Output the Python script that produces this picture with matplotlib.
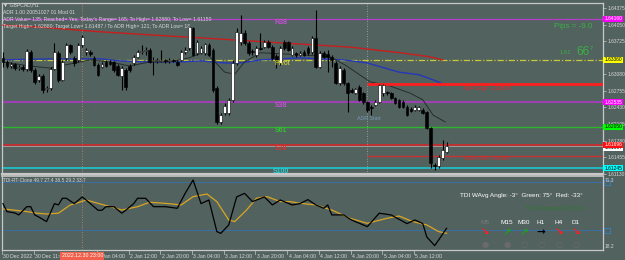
import numpy as np
import matplotlib
matplotlib.use("Agg")
import matplotlib.pyplot as plt
from matplotlib.patches import Rectangle
from matplotlib.transforms import blended_transform_factory as blend

plt.rcParams['font.family'] = ['Liberation Sans', 'DejaVu Sans']

# ------------------------------------------------------------------
# Data (GBPCAD H1, 30 Dec 2022 03:00 .. 5 Jan)
# ------------------------------------------------------------------
opens = [
    1.6340, 1.6332, 1.6324, 1.6328, 1.6320, 1.6322, 1.6318, 1.6352, 1.6316, 1.6297,
    1.6305, 1.6279, 1.6281, 1.6318, 1.6350, 1.6297, 1.6340, 1.6365, 1.6340, 1.6336,
    1.6365, 1.6352, 1.6352, 1.6340, 1.6326, 1.6322, 1.6332, 1.6332, 1.6332, 1.6324,
    1.6305, 1.6316, 1.6324, 1.6330, 1.6342, 1.6352, 1.6353, 1.6355, 1.6334, 1.6334,
    1.6334, 1.6336, 1.6334, 1.6336, 1.6332, 1.6336, 1.6352, 1.6359, 1.6398, 1.6350,
    1.6350, 1.6350, 1.6365, 1.6355, 1.6281, 1.6215, 1.6232, 1.6232, 1.6258, 1.6330,
    1.6371, 1.6389, 1.6369, 1.6353, 1.6346, 1.6359, 1.6361, 1.6371, 1.6361, 1.6344,
    1.6330, 1.6371, 1.6371, 1.6346, 1.6350, 1.6346, 1.6352, 1.6359, 1.6352, 1.6379,
    1.6322, 1.6350, 1.6348, 1.6342, 1.6330, 1.6291, 1.6316, 1.6291, 1.6277, 1.6271,
    1.6283, 1.6271, 1.6254, 1.6244, 1.6248, 1.6254, 1.6271, 1.6273, 1.6271, 1.6262,
    1.6258, 1.6254, 1.6244, 1.6240, 1.6238, 1.6238, 1.6238, 1.6234, 1.6203, 1.6130,
    1.6129, 1.6144, 1.6156]
highs = [
    1.6352, 1.6336, 1.6332, 1.6330, 1.6326, 1.6326, 1.6357, 1.6355, 1.6320, 1.6308,
    1.6308, 1.6285, 1.6322, 1.6369, 1.6353, 1.6336, 1.6369, 1.6367, 1.6344, 1.6369,
    1.6385, 1.6359, 1.6355, 1.6344, 1.6330, 1.6332, 1.6336, 1.6336, 1.6334, 1.6328,
    1.6324, 1.6320, 1.6328, 1.6346, 1.6355, 1.6365, 1.6361, 1.6359, 1.6342, 1.6340,
    1.6355, 1.6338, 1.6340, 1.6338, 1.6336, 1.6355, 1.6361, 1.6404, 1.6400, 1.6375,
    1.6363, 1.6369, 1.6369, 1.6359, 1.6285, 1.6232, 1.6252, 1.6262, 1.6336, 1.6398,
    1.6424, 1.6395, 1.6373, 1.6357, 1.6363, 1.6389, 1.6375, 1.6375, 1.6365, 1.6348,
    1.6363, 1.6375, 1.6373, 1.6363, 1.6352, 1.6353, 1.6355, 1.6363, 1.6383, 1.6434,
    1.6353, 1.6353, 1.6355, 1.6346, 1.6334, 1.6324, 1.6320, 1.6293, 1.6281, 1.6281,
    1.6287, 1.6273, 1.6256, 1.6248, 1.6258, 1.6289, 1.6289, 1.6275, 1.6273, 1.6264,
    1.6260, 1.6258, 1.6248, 1.6244, 1.6248, 1.6246, 1.6242, 1.6236, 1.6205, 1.6134,
    1.6150, 1.6179, 1.6176]
lows = [
    1.6322, 1.6320, 1.6320, 1.6316, 1.6316, 1.6314, 1.6314, 1.6312, 1.6289, 1.6293,
    1.6271, 1.6273, 1.6277, 1.6316, 1.6293, 1.6295, 1.6336, 1.6348, 1.6324, 1.6332,
    1.6361, 1.6346, 1.6344, 1.6324, 1.6305, 1.6320, 1.6322, 1.6326, 1.6312, 1.6305,
    1.6277, 1.6277, 1.6312, 1.6326, 1.6340, 1.6348, 1.6346, 1.6330, 1.6307, 1.6330,
    1.6332, 1.6330, 1.6330, 1.6332, 1.6324, 1.6334, 1.6348, 1.6355, 1.6344, 1.6346,
    1.6348, 1.6346, 1.6344, 1.6273, 1.6211, 1.6211, 1.6228, 1.6228, 1.6254, 1.6326,
    1.6365, 1.6365, 1.6346, 1.6346, 1.6342, 1.6355, 1.6359, 1.6359, 1.6336, 1.6320,
    1.6326, 1.6355, 1.6353, 1.6344, 1.6342, 1.6344, 1.6344, 1.6346, 1.6348, 1.6320,
    1.6320, 1.6340, 1.6312, 1.6322, 1.6289, 1.6287, 1.6287, 1.6234, 1.6271, 1.6269,
    1.6256, 1.6250, 1.6234, 1.6228, 1.6246, 1.6252, 1.6265, 1.6267, 1.6260, 1.6250,
    1.6242, 1.6242, 1.6226, 1.6234, 1.6236, 1.6236, 1.6230, 1.6201, 1.6125, 1.6121,
    1.6125, 1.6140, 1.6154]
closes = [
    1.6332, 1.6324, 1.6328, 1.6320, 1.6322, 1.6318, 1.6353, 1.6316, 1.6293, 1.6305,
    1.6277, 1.6281, 1.6318, 1.6352, 1.6297, 1.6332, 1.6365, 1.6352, 1.6330, 1.6365,
    1.6381, 1.6355, 1.6348, 1.6326, 1.6307, 1.6328, 1.6324, 1.6328, 1.6316, 1.6307,
    1.6320, 1.6283, 1.6316, 1.6342, 1.6352, 1.6353, 1.6355, 1.6332, 1.6336, 1.6336,
    1.6336, 1.6334, 1.6336, 1.6334, 1.6326, 1.6352, 1.6355, 1.6400, 1.6346, 1.6371,
    1.6359, 1.6367, 1.6346, 1.6277, 1.6215, 1.6228, 1.6246, 1.6258, 1.6330, 1.6391,
    1.6389, 1.6369, 1.6350, 1.6352, 1.6359, 1.6357, 1.6371, 1.6361, 1.6340, 1.6336,
    1.6359, 1.6359, 1.6355, 1.6359, 1.6346, 1.6350, 1.6346, 1.6350, 1.6379, 1.6322,
    1.6350, 1.6342, 1.6342, 1.6336, 1.6291, 1.6320, 1.6291, 1.6271, 1.6273, 1.6279,
    1.6258, 1.6254, 1.6238, 1.6242, 1.6254, 1.6287, 1.6287, 1.6271, 1.6262, 1.6252,
    1.6244, 1.6244, 1.6228, 1.6236, 1.6244, 1.6244, 1.6232, 1.6203, 1.6134, 1.6129,
    1.6146, 1.6160, 1.61667]

# moving averages (bar index, price)
slow_ma_idx = [0, 9, 24.5, 37, 50, 62.4, 75, 87.6, 100.3, 107.8, 111]
slow_ma_val = [1.6404, 1.6400, 1.6391, 1.6385, 1.6379, 1.6373, 1.6367, 1.6361, 1.6350, 1.6342, 1.6336]
mid_ma_idx = [0, 12, 24.5, 29.5, 37, 44.7, 50, 56, 60, 65, 75, 86, 92, 100, 105, 108.6, 111.6]
mid_ma_val = [1.6336, 1.6338, 1.6338, 1.6334, 1.6332, 1.6332, 1.6334, 1.6330, 1.6330, 1.6336,
              1.6340, 1.6336, 1.6330, 1.6312, 1.6307, 1.6297, 1.6287]
fast_ma_idx = [0, 6.8, 11.9, 16.9, 22, 27, 32, 37, 42, 47, 51, 53.5, 56, 58.5, 61, 65, 75,
               82.6, 86.4, 92.7, 97.7, 102.8, 106, 108.6, 111.6]
fast_ma_val = [1.6332, 1.6324, 1.6320, 1.6328, 1.6336, 1.6332, 1.6324, 1.6332, 1.6332, 1.6340,
               1.6352, 1.6332, 1.6312, 1.6308, 1.6332, 1.6350, 1.6346, 1.6342, 1.6326, 1.6293,
               1.6285, 1.6271, 1.6258, 1.6228, 1.6215]

# fibo pivot levels
level_names = ['R38', 'Pivot', 'S38', 'S61', 'S78', 'S100']
level_prices = [1.64160, 1.63360, 1.62535, 1.62050, 1.61696, 1.61245]

adr_high = 1.62880
adr_low = 1.61487
adr_start_bar = 92
cross_bar = 20

# scale labels that are not covered by the level boxes
price_ticks = [1.64375, 1.64050, 1.63725, 1.63080, 1.62755,
               1.62430, 1.62105, 1.61780, 1.61455, 1.61130]

time_bars = [0, 8, 24, 32, 40, 48, 56, 64, 72, 80, 88, 96, 104]
time_labels = ['30 Dec 2022', '30 Dec 11:00', '2 Jan 04:00', '2 Jan 12:00', '2 Jan 20:00',
               '3 Jan 04:00', '3 Jan 12:00', '3 Jan 20:00', '4 Jan 04:00', '4 Jan 12:00',
               '4 Jan 20:00', '5 Jan 04:00', '5 Jan 12:00']

# TDI sub-window
rsi_idx = [0, 1, 3, 4, 6, 7, 8, 9, 11, 13, 14, 15, 16, 18, 20, 21, 24, 25, 26, 28, 30, 31,
           33, 34, 36, 38, 41, 44, 46, 48, 50, 52, 54, 55, 57, 59, 61, 63, 66, 68, 70, 73,
           75, 77, 79, 81, 82, 83, 86, 88, 92, 95, 98, 102, 104, 106, 107, 109, 110, 112]
rsi_val = [52, 46, 45, 43.5, 49.7, 49.7, 43.5, 42, 38.5, 52, 51, 56, 56, 52, 57, 54.7, 47,
           47, 49.7, 49.7, 44.8, 47, 52, 56, 56, 49.7, 49.7, 48.5, 59.7, 69.7, 52, 54.7, 31,
           29.7, 36, 57, 59.7, 53.5, 57, 51, 54.7, 51, 52, 55, 51, 48.5, 51, 43.5, 43.5,
           39.7, 34.7, 44.8, 43.5, 37, 39.7, 37, 27, 20.5, 24.7, 33.5]
sig_idx = [0, 2.5, 6, 8.6, 11, 14, 17, 19, 21, 24, 27, 30, 34, 37, 41, 45, 48, 51.5, 54, 57,
           58.5, 61.5, 64, 66.7, 70, 72.5, 75, 79, 83, 87.6, 92, 97, 100, 103.5, 107, 110, 112]
sig_val = [48, 47.2, 46, 44.8, 44.2, 44.8, 51, 52.7, 54.7, 52.2, 49.7, 47.2, 49.7, 53, 52.2,
           51, 57.2, 59.2, 53.5, 39.7, 38.5, 47.2, 56, 57.2, 53.5, 53.5, 52.2, 51, 47.2, 41,
           37.2, 41, 42.7, 38.5, 36, 31, 29.7]
tdi_levels = [68, 32]

tf_names = ['M5', 'M15', 'M30', 'H1', 'H4', 'D1']
tf_arrows = ['↘', '↗', '↗', '→', '↘', '↘']
tf_colors = ['#ff2020', '#1fa01f', '#1fa01f', '#000000', '#ff2020', '#ff2020']
tf_marks = ['●', '●', '○', '○', '○', '○']

# ------------------------------------------------------------------
# Figure
# ------------------------------------------------------------------
BG = '#52625f'
FG = '#d8d8d8'
W, H = 625, 260

fig = plt.figure(figsize=(W / 100, H / 100), dpi=100, facecolor=BG)
ax = fig.add_axes([2 / W, 1 - 174 / H, 601 / W, 171 / H], facecolor=BG)
ind = fig.add_axes([2 / W, 1 - 250 / H, 601 / W, 74 / H], facecolor=BG)

xlim = (-0.25, 151.5)
for a in (ax, ind):
    a.set_xlim(*xlim)
    a.set_xticks([])
    for s in a.spines.values():
        s.set_color('#c8c8c8')
        s.set_linewidth(0.9)
ax.spines['bottom'].set_linewidth(1.6)
ind.spines['top'].set_linewidth(1.2)
ax.set_ylim(1.61129, 1.64472)
ind.set_ylim(17.2, 72.7)

# price scale
ax.yaxis.tick_right()
ax.set_yticks(price_ticks)
ax.set_yticklabels([f'{p:.5f}' for p in price_ticks])
ax.tick_params(axis='y', colors='#c8c8c8', labelcolor=FG, labelsize=3.5,
               length=2, width=0.5, pad=1.2)
ind.set_yticks([])

# candles
x = np.arange(len(closes))
o, h, l, c = (np.array(v) for v in (opens, highs, lows, closes))
up = c >= o
body = np.maximum(np.abs(c - o), 0.00005)
ax.vlines(x, l, h, color='black', lw=0.8, zorder=4)
ax.bar(x[up], body[up], bottom=o[up], width=0.7, color='white',
       edgecolor='black', lw=0.4, zorder=5)
ax.bar(x[~up], body[~up], bottom=c[~up], width=0.7, color='black',
       edgecolor='black', lw=0.4, zorder=5)

# moving averages
ax.plot(slow_ma_idx, slow_ma_val, color='#c81e1e', lw=1.0, zorder=3)
ax.plot(mid_ma_idx, mid_ma_val, color='#2438b8', lw=1.0, zorder=3)
ax.plot(fast_ma_idx, fast_ma_val, color='#262e2c', lw=0.7, zorder=3)

# pivot levels
level_colors = ['#b43cc8', '#c8c83c', '#a83cc0', '#2eb42e', '#d22828', '#20c0c8']
level_label = ['#c850d8', '#e6e632', '#c850d8', '#34c034', '#e03030', '#28d0d8']
level_box = ['#ff00ff', '#ffff00', '#ff00ff', '#00ff00', '#ff1010', '#00ffff']
level_txt = ['white', 'black', 'white', 'black', 'white', 'black']
level_lw = [0.9, 0.9, 1.3, 1.0, 1.2, 1.3]
tr_r = blend(ax.transAxes, ax.transData)
for name, p, col, lc, bc, tc, lw in zip(level_names, level_prices, level_colors,
                                        level_label, level_box, level_txt, level_lw):
    if name == 'Pivot':
        ax.axhline(p, color=col, lw=lw, ls=(0, (5, 1.5, 1, 1.5)), zorder=2)
        ax.text(68.4, p - 0.00008, name, color=lc, fontsize=5.0, ha='left',
                va='top', zorder=6)
    else:
        ax.axhline(p, color=col, lw=lw, zorder=2)
        ax.text(70.2, p - 0.00008, name, color=lc, fontsize=5.0, fontweight='bold',
                ha='center', va='top', zorder=6)
    ax.text(1.002, p, f'{p:.5f}', transform=tr_r, fontsize=3.5, color=tc,
            ha='left', va='center', clip_on=False, zorder=10,
            bbox=dict(boxstyle='square,pad=0.18', fc=bc, ec='none'))

# bid line
ax.axhline(closes[-1], color='#a8a8a8', lw=0.6, zorder=2)
ax.text(1.002, closes[-1] - 0.00024, f'{closes[-1]:.5f}', transform=tr_r, fontsize=3.5,
        color='black', ha='left', va='center', clip_on=False, zorder=9,
        bbox=dict(boxstyle='square,pad=0.18', fc='white', ec='none'))

# ADR
ax.hlines(adr_high, adr_start_bar, xlim[1], color='#ff1e1e', lw=2.0, zorder=3)
ax.hlines(adr_low, adr_start_bar, xlim[1], color='#c83232', lw=1.0, zorder=3)
ax.text(122.3, adr_high - 0.00022, f'ADR High: {adr_high:.5f}', color='#e02828',
        fontsize=4.0, ha='center', va='top', zorder=6)
ax.text(122.3, adr_low - 0.00012, f'ADR Low: {adr_low:.5f}', color='#e02828',
        fontsize=4.0, ha='center', va='top', zorder=6)
ax.axvline(adr_start_bar, color='#a8b0b0', lw=0.6, ls=(0, (1, 2)), zorder=2)
ax.text(adr_start_bar + 0.5, 1.6222, 'ADR Start', color='#7a98b6', fontsize=3.8,
        ha='center', va='center', zorder=6)

# crosshair
for a in (ax, ind):
    a.axvline(cross_bar, color='#d08878', lw=0.6, ls=(0, (1, 2)), zorder=2)

# header texts
hdr = ['▼ GBPCAD,H1', 'ADR 1.00 20051027 01 Mod 01',
       "ADR Value= 135; Reached= Yes; Today's Range= 165; To High= 1.62880; To Low= 1.61150",
       'Target High= 1.62880; Target Low= 1.61487 / To ADR High= 121; To ADR Low= 18']
for i, t in enumerate(hdr):
    fig.text(3 / W, 1 - (5 + 7.3 * i) / H, t, color=FG, fontsize=3.7, va='center', zorder=10)

fig.text(554 / W, 1 - 26.5 / H, 'Pips = -9.0', color='#3cb043', fontsize=5.8, va='center')
fig.text(560 / W, 1 - 52 / H, '1.61', color='#3cb043', fontsize=4.2, va='center')
fig.text(576 / W, 1 - 52 / H, '66', color='#3cb043', fontsize=8.5, va='center')
fig.text(590 / W, 1 - 48.5 / H, '7', color='#3cb043', fontsize=4.2, va='center')

# ------------------------------------------------------------------
# TDI panel
# ------------------------------------------------------------------
for lv in tdi_levels:
    ind.axhline(lv, color='#3a6ea5', lw=0.7, zorder=2)
ind.plot(sig_idx, sig_val, color='#daa520', lw=0.9, zorder=3)
ind.plot(rsi_idx, rsi_val, color='black', lw=0.9, zorder=4)

tr_i = blend(ind.transAxes, ind.transData)
ind.text(1.003, 71.3, '71.3', transform=tr_i, fontsize=3.4, color=FG, ha='left',
         va='top', clip_on=False)
ind.text(1.003, 18.2, '18.2', transform=tr_i, fontsize=3.4, color=FG, ha='left',
         va='bottom', clip_on=False)
for lv in tdi_levels:
    ind.add_patch(Rectangle((1.002, lv - 1.8), 0.009, 3.6, transform=tr_i, fill=False,
                            ec='#3c78b4', lw=0.8, clip_on=False))

fig.text(3 / W, 1 - 181 / H, 'TDI-RT-Clone 49.7 27.4 38.5 29.2 33.7', color=FG,
         fontsize=3.4, va='center')
fig.text(583 / W, 1 - 195.5 / H, 'TDI WAvg Angle: -3°  Green: 75°  Red: -33°',
         color='white', fontsize=4.6, ha='right', va='center')
fig.text(583 / W, 1 - 208.5 / H, 'TDI Crossed UP [1.0]', color='#2a7a2a',
         fontsize=4.4, ha='right', va='center')

tf_x = [485, 507, 524, 541, 559, 576]
for xx, name, arr, col, mk in zip(tf_x, tf_names, tf_arrows, tf_colors, tf_marks):
    fig.text(xx / W, 1 - 223 / H, name, color='#7a7a7a' if name == 'M5' else 'white',
             fontsize=4.6, ha='center', va='center')
    fig.text(xx / W, 1 - 232.5 / H, arr, color=col, fontsize=7.5, fontweight='bold',
             family='DejaVu Sans', ha='center', va='center')
    fig.text(xx / W, 1 - 244 / H, mk, color='#6a6a6a', fontsize=6, family='DejaVu Sans',
             ha='center', va='center')

# time scale
tr_t = blend(ind.transData, ind.transAxes)
for b, lab in zip(time_bars, time_labels):
    ind.plot([b - 0.25, b - 0.25], [0, -0.05], transform=tr_t, color='#c8c8c8',
             lw=0.5, clip_on=False)
    ind.text(b + 0.1, -0.055, lab, transform=tr_t, color=FG, fontsize=3.7,
             ha='left', va='top', clip_on=False)
ind.text(cross_bar, -0.045, '2022.12.30 23:00', transform=tr_t, color='white',
         fontsize=3.8, ha='center', va='top', clip_on=False, zorder=10,
         bbox=dict(boxstyle='square,pad=0.25', fc='#f0604a', ec='none'))

fig.savefig('out.png', dpi=100, facecolor=BG)
